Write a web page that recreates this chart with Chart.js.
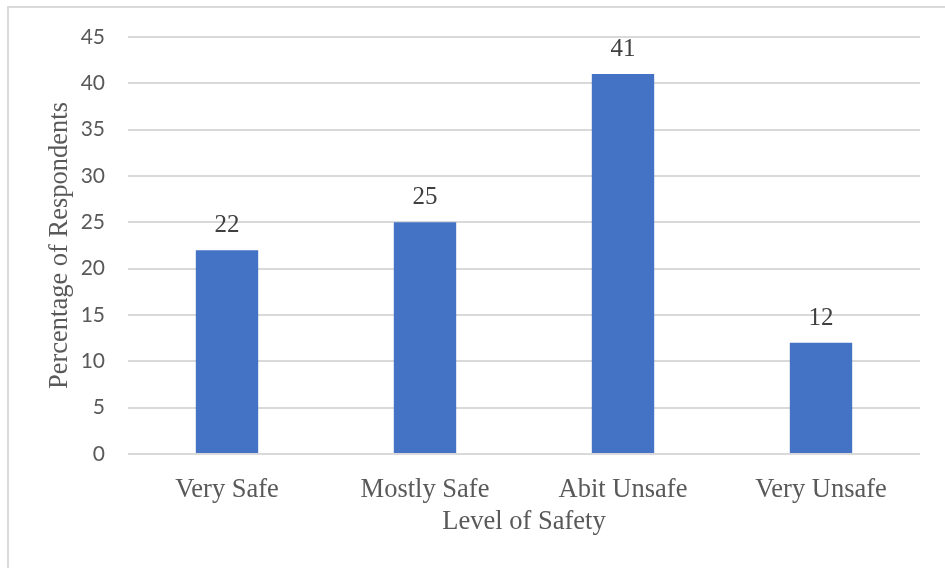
<!DOCTYPE html>
<html>
<head>
<meta charset="utf-8">
<title>Level of Safety</title>
<script src="https://cdn.jsdelivr.net/npm/chart.js@4.4.1/dist/chart.umd.min.js"></script>
<style>
    html, body { margin: 0; padding: 0; background: #ffffff; overflow: hidden; }
    #wrap { position: relative; width: 945px; height: 568px; }
    #marco {
        position: absolute; left: 7px; top: 6px; width: 1000px; height: 700px;
        border: 2px solid #d9d9d9; box-sizing: border-box;
    }
    canvas { position: absolute; left: 0; top: 0; }
</style>
</head>
<body>
<div id="wrap">
    <div id="marco"></div>
    <canvas id="grafico" width="945" height="568"></canvas>
</div>
<script>
// --- DATOS ---
const categorias = ['Very Safe', 'Mostly Safe', 'Abit Unsafe', 'Very Unsafe'];
const porcentajes = [22, 25, 41, 12];
const ejeY = { min: 0, max: 45, paso: 5 };

// etiquetas sobre cada barra
const etiquetasBarras = {
    id: 'etiquetasBarras',
    afterDatasetsDraw(chart) {
        const ctx = chart.ctx;
        const meta = chart.getDatasetMeta(0);
        ctx.save();
        ctx.font = '25px "Liberation Serif", "Times New Roman", serif';
        ctx.fillStyle = '#404040';
        ctx.textAlign = 'center';
        ctx.textBaseline = 'alphabetic';
        meta.data.forEach((barra, i) => {
            ctx.fillText(String(porcentajes[i]), barra.x, barra.y - 18);
        });
        ctx.restore();
    }
};

const serif = '"Liberation Serif", "Times New Roman", serif';

new Chart(document.getElementById('grafico'), {
    type: 'bar',
    data: {
        labels: categorias,
        datasets: [{
            data: porcentajes,
            backgroundColor: '#4472c4',
            borderWidth: 0,
            categoryPercentage: 1,
            barPercentage: 0.315
        }]
    },
    options: {
        responsive: false,
        animation: false,
        layout: { padding: { left: 0, right: 25, top: 37, bottom: 0 } },
        plugins: {
            legend: { display: false },
            tooltip: { enabled: false }
        },
        scales: {
            x: {
                grid: { display: false },
                border: { display: false },
                ticks: {
                    color: '#595959',
                    padding: 12,
                    font: { family: serif, size: 26.5 }
                },
                title: {
                    display: true,
                    text: 'Level of Safety',
                    color: '#595959',
                    font: { family: serif, size: 26.5 },
                    padding: { top: 0, bottom: 30 }
                },
                afterFit(scale) { scale.height = 114; }
            },
            y: {
                min: ejeY.min,
                max: ejeY.max,
                grid: { color: '#d9d9d9', lineWidth: 2, drawTicks: false },
                border: { display: false },
                ticks: {
                    stepSize: ejeY.paso,
                    color: '#595959',
                    padding: 23,
                    font: { family: 'Lato, "Open Sans", sans-serif', size: 21 }
                },
                title: {
                    display: true,
                    text: 'Percentage of Respondents',
                    color: '#595959',
                    font: { family: serif, size: 26.5 },
                    padding: { top: 44, bottom: 0 }
                },
                afterFit(scale) { scale.width = 128; }
            }
        }
    },
    plugins: [etiquetasBarras]
});
</script>
</body>
</html>
